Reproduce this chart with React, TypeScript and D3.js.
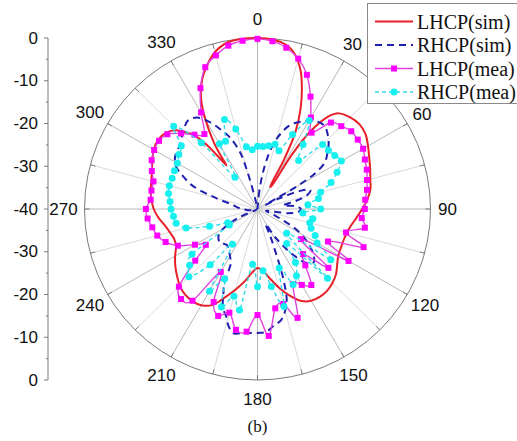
import React from "react";
import * as d3 from "d3";

// Polar pattern: angle (deg, clockwise from top) and gain (dB), -40 dB at the centre.
const angleLabels = [0, 30, 60, 90, 120, 150, 180, 210, 240, 270, 300, 330];
const gridAngles = [0, 15, 30, 45, 60, 75, 90, 105, 120, 135, 150, 165, 180, 195, 210, 225, 240, 255, 270, 285, 300, 315, 330, 345];
const radialAxisLabels = [0, -10, -20, -30, -40, -30, -20, -10, 0];

// LHCP simulated [angle, dB]
const lhcpSim: [number, number][] = [
  [0, 0], [5, -0.2], [10, -1.1], [13, -2.5], [17, -6], [20, -10], [23, -14.5], [26, -20], [28, -27],
  [29.5, -34], [30.5, -34], [32, -25], [34, -18], [37, -13], [40, -10.8], [45, -9.7], [50, -9.2],
  [55, -9.5], [60, -10.5], [65, -11.5], [70, -12.3], [75, -13], [80, -13.5], [85, -14.5], [90, -15.8],
  [95, -17], [100, -18], [105, -18.6], [110, -18.8], [115, -18.7], [120, -18.4], [125, -17.5],
  [130, -16.3], [135, -15.5], [140, -15], [145, -14.9], [150, -15.2], [155, -16.3], [160, -18.5],
  [165, -21], [170, -23.5], [175, -25.5], [180, -26.2], [185, -25], [190, -22.8], [195, -20.5],
  [200, -18], [205, -15.2], [210, -14], [215, -13.7], [220, -13.9], [225, -14.6], [230, -15.7],
  [235, -16.8], [240, -18], [245, -19.2], [250, -19.5], [255, -19], [260, -18.2], [265, -17],
  [270, -16], [275, -15.4], [280, -14.9], [285, -14.6], [290, -14], [295, -13.2], [300, -12.3],
  [305, -11.9], [310, -12.3], [315, -14], [320, -17.8], [322, -21], [324, -26], [325, -27.5],
  [326, -24], [327, -21.5], [330, -16], [333, -11.3], [337, -7.2], [340, -5], [344, -2.5],
  [347, -1.2], [350, -0.4], [355, 0],
];

// RHCP simulated [angle, dB]
const rhcpSim: [number, number][] = [
  [0, -40], [5, -37], [8, -32], [11, -27.5], [14, -24], [17, -21.5], [20, -19.5], [23, -18.2],
  [27, -17], [31, -16], [35, -15.2], [39, -15.2], [43, -16.2], [47, -17.5], [51, -19.2], [55, -21],
  [58, -24.5], [60, -30], [62, -38], [64, -34], [67, -29], [70, -27], [74, -28], [78, -31], [82, -34],
  [86, -31], [90, -30], [94, -30.5], [98, -33], [102, -38], [110, -36], [118, -30], [124, -26],
  [130, -23], [134, -22], [138, -23], [143, -27], [148, -32], [152, -36], [155, -33], [157, -30],
  [160, -22.5], [163, -17], [168, -13.5], [172, -12.5], [176, -11.2], [180, -11], [184, -10.9],
  [188, -10.6], [191, -10.4], [194, -12], [196, -13.8], [199, -15.5], [202, -19], [204, -21],
  [206, -26], [209, -27], [213, -28], [220, -29], [228, -28.3], [235, -29], [240, -31], [245, -35],
  [252, -40], [262, -38], [272, -36], [280, -34], [285, -30], [290, -24], [295, -20.5], [298, -18.6],
  [303, -17.3], [309, -16.7], [316, -15.2], [322, -13.8], [327, -14.5], [332, -17.2], [336, -20],
  [339, -22], [343, -26], [345, -31], [348, -38], [353, -40], [357, -40],
];

// Measured patterns, sampled every 5 degrees
const measuredAngles = [
  0, 5, 10, 15, 20, 25, 30, 35, 40, 45, 50, 55, 60, 65, 70, 75, 80, 85,
  90, 95, 100, 105, 110, 115, 120, 125, 130, 135, 140, 145, 150, 155, 160, 165, 170, 175,
  180, 185, 190, 195, 200, 205, 210, 215, 220, 225, 230, 235, 240, 245, 250, 255, 260, 265,
  270, 275, 280, 285, 290, 295, 300, 305, 310, 315, 320, 325, 330, 335, 340, 345, 350, 355,
];
const lhcpMea = [
  -0.2, -0.6, -1.7, -3.6, -6.6, -11, -15.3, -18.2, -13.6, -12.6, -11.7, -11.7, -11.8, -12.6, -13.1, -13.8, -14.3, -15,
  -15.2, -15.8, -14.8, -18.8, -13.9, -22, -15.7, -27.7, -18.6, -25.1, -22.8, -18.3, -19.5, -20.6, -12.9, -17, -16.4, -10.2,
  -15.2, -11.2, -11.3, -14.9, -13.4, -16, -23, -13.8, -12.5, -14.3, -21.2, -25.4, -23.3, -19.7, -17.4, -16, -15.3, -14.5,
  -14.2, -15.2, -15.1, -15.1, -14, -13, -12.4, -12.2, -12.8, -15, -17.3, -18.6, -13.9, -8.8, -4.7, -2.8, -1.2, -0.5,
];
const rhcpMea = [
  -25.3, -25.3, -25, -24.3, -25.5, -20.8, -16.1, -21.6, -25.2, -18.7, -18.6, -18.2, -17.6, -19.7, -21.9, -24.9, -25.7, -28.3,
  -25.4, -29.5, -27, -27.5, -26.8, -25.3, -24.1, -19.3, -31.2, -17.1, -29.5, -24.7, -22, -20.5, -25.3, -16.4, -21.6, -25.5,
  -21.8, -27, -16, -18.9, -15.6, -22, -17.8, -29.9, -23, -17.6, -19.5, -21.5, -32.5, -32.4, -28.2, -22.9, -20.9, -20.5,
  -20, -19.7, -19.1, -18.9, -19, -18.8, -18.6, -17.8, -17, -12.6, -19.8, -30.9, -22.4, -22.5, -17.7, -20.6, -25.2, -26.1,
];

const legendItems = [
  { label: "LHCP(sim)", color: "#e8202a", dash: "", marker: "" },
  { label: "RHCP(sim)", color: "#2020b0", dash: "7,5", marker: "" },
  { label: "LHCP(mea)", color: "#e040e0", dash: "", marker: "square" },
  { label: "RHCP(mea)", color: "#30dce8", dash: "4,3", marker: "circle" },
];

const W = 517;
const H = 441;
const CX = 257.5;
const CY = 209;
const RX = 173;
const RY = 171;

const rScale = d3.scaleLinear().domain([-40, 0]).range([0, 1]).clamp(true);
const aScale = d3.scaleLinear().domain([0, 360]).range([0, 2 * Math.PI]);

function toXY(deg: number, db: number): [number, number] {
  const t = aScale(deg);
  const f = rScale(db);
  return [CX + f * RX * Math.sin(t), CY - f * RY * Math.cos(t)];
}

const smoothLine = d3.line<[number, number]>().curve(d3.curveCatmullRomClosed.alpha(0.5));
const measLine = d3.line<[number, number]>().curve(d3.curveCardinalClosed.tension(0));

export default function App() {
  const lhcpSimPts = lhcpSim.map(([a, v]) => toXY(a, v));
  const rhcpSimPts = rhcpSim.map(([a, v]) => toXY(a, v));
  const lhcpMeaPts = measuredAngles.map((a, i) => toXY(a, lhcpMea[i]));
  const rhcpMeaPts = measuredAngles.map((a, i) => toXY(a, rhcpMea[i]));

  const axisY = d3.scaleLinear().domain([0, radialAxisLabels.length - 1]).range([CY - RY, CY + RY]);
  const minorIdx = d3.range(0.5, radialAxisLabels.length - 1, 1);

  const sans = "'Liberation Sans', Arial, sans-serif";
  const serif = "'Liberation Serif', 'Times New Roman', serif";

  return (
    <svg width={W} height={H} style={{ position: "absolute", left: 0, top: 0, background: "#fff" }}>
      <rect x={0} y={0} width={W} height={H} fill="#fff" />
      {/* radial grid */}
      {gridAngles.map((a) => {
        const [x, y] = toXY(a, 0);
        return (
          <line key={"g" + a} x1={CX} y1={CY} x2={x} y2={y}
            stroke={a % 30 === 0 ? "#b8b8b8" : "#dadada"} strokeWidth={1} />
        );
      })}
      <ellipse cx={CX} cy={CY} rx={RX} ry={RY} fill="none" stroke="#7a7a7a" strokeWidth={1} />
      {gridAngles.map((a) => {
        const t = aScale(a);
        const x1 = CX + RX * Math.sin(t), y1 = CY - RY * Math.cos(t);
        const x2 = CX + (RX - 5) * Math.sin(t), y2 = CY - (RY - 5) * Math.cos(t);
        return <line key={"t" + a} x1={x1} y1={y1} x2={x2} y2={y2} stroke="#7a7a7a" strokeWidth={1} />;
      })}
      {angleLabels.map((a) => {
        const t = aScale(a);
        const s = String(a);
        const r = 190 + (s.length - 2) * 4 * Math.abs(Math.sin(t));
        return (
          <text key={"l" + a} x={CX + r * Math.sin(t)} y={CY - r * Math.cos(t)}
            textAnchor="middle" dominantBaseline="central" fontFamily={sans} fontSize={17} fill="#111">
            {s}
          </text>
        );
      })}

      {/* left dB axis */}
      <line x1={48} y1={CY - RY} x2={48} y2={CY + RY} stroke="#7a7a7a" strokeWidth={1} />
      {radialAxisLabels.map((v, i) => (
        <g key={"ax" + i}>
          <line x1={44} y1={axisY(i)} x2={48} y2={axisY(i)} stroke="#7a7a7a" strokeWidth={1} />
          <text x={38} y={axisY(i)} textAnchor="end" dominantBaseline="central"
            fontFamily={sans} fontSize={17} fill="#111">{v}</text>
        </g>
      ))}
      {minorIdx.map((i) => (
        <line key={"mi" + i} x1={46} y1={axisY(i)} x2={48} y2={axisY(i)} stroke="#7a7a7a" strokeWidth={1} />
      ))}

      {/* simulated */}
      <path d={smoothLine(lhcpSimPts) || ""} fill="none" stroke={legendItems[0].color} strokeWidth={2} />
      <path d={smoothLine(rhcpSimPts) || ""} fill="none" stroke={legendItems[1].color} strokeWidth={2}
        strokeDasharray={legendItems[1].dash} />

      {/* measured */}
      <path d={measLine(lhcpMeaPts) || ""} fill="none" stroke={legendItems[2].color} strokeWidth={1.4} />
      {lhcpMeaPts.map(([x, y], i) => (
        <rect key={"ms" + i} x={x - 3} y={y - 3} width={6} height={6} fill="#ff00ff" />
      ))}
      <path d={measLine(rhcpMeaPts) || ""} fill="none" stroke={legendItems[3].color} strokeWidth={1.4}
        strokeDasharray={legendItems[3].dash} />
      {rhcpMeaPts.map(([x, y], i) => (
        <circle key={"mc" + i} cx={x} cy={y} r={3.5} fill="#18f0f0" />
      ))}

      {/* legend */}
      <rect x={367.5} y={3.5} width={160} height={100} fill="#fff" stroke="#8a8a8a" strokeWidth={1} />
      {legendItems.map((it, i) => {
        const y = 21.5 + i * 23.5;
        return (
          <g key={"lg" + i}>
            <line x1={375} y1={y} x2={413} y2={y} stroke={it.color} strokeWidth={it.marker ? 1.4 : 2}
              strokeDasharray={it.dash} />
            {it.marker === "square" && <rect x={391} y={y - 3} width={6} height={6} fill="#ff00ff" />}
            {it.marker === "circle" && <circle cx={394} cy={y} r={3.5} fill="#18f0f0" />}
            <text x={417} y={y} dominantBaseline="central" fontFamily={serif} fontSize={20} fill="#111">
              {it.label}
            </text>
          </g>
        );
      })}

      <text x={CX} y={426} textAnchor="middle" dominantBaseline="central" fontFamily={serif} fontSize={17} fill="#111">
        (b)
      </text>
    </svg>
  );
}
